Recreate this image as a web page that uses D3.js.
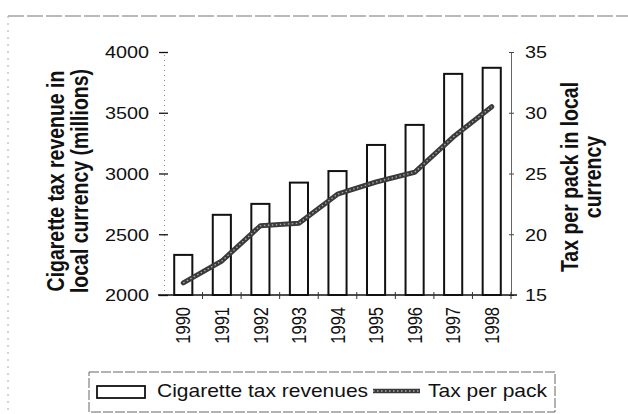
<!DOCTYPE html>
<html>
<head>
<meta charset="utf-8">
<script src="https://cdn.jsdelivr.net/npm/d3@7"></script>
<style>
  body { margin: 0; background: #fff; }
  text { font-family: "Liberation Sans", Arial, sans-serif; fill: #111; }
</style>
</head>
<body>
<svg id="chart" width="628" height="414"></svg>
<script>
// Cigarette tax revenue (bars, left axis) and tax per pack (line, right axis)
const years = ["1990", "1991", "1992", "1993", "1994", "1995", "1996", "1997", "1998"];
const revenue = [2330, 2660, 2750, 2925, 3020, 3235, 3400, 3820, 3870];
const taxPerPack = [16.0, 17.8, 20.7, 20.9, 23.3, 24.3, 25.1, 28.0, 30.5];
const revenueTicks = [2000, 2500, 3000, 3500, 4000];
const taxTicks = [15, 20, 25, 30, 35];
const leftTitle = ["Cigarette tax revenue in", "local currency (millions)"];
const rightTitle = ["Tax per pack in local", "currency"];
const legendLabels = ["Cigarette tax revenues", "Tax per pack"];

const SX = 1.2; // glyphs are drawn slightly wide
const svg = d3.select("#chart");

const plot = { left: 164, right: 511, top: 52, bottom: 295 };

const x = d3.scaleBand().domain(years)
  .range([plot.left, plot.right])
  .paddingInner(0.53).paddingOuter(0.265);
const yL = d3.scaleLinear().domain([2000, 4000]).range([plot.bottom, plot.top]);
const yR = d3.scaleLinear().domain([15, 35]).range([plot.bottom, plot.top]);

// outer frame
svg.append("line").attr("x1", 8).attr("x2", 628).attr("y1", 16).attr("y2", 16)
  .attr("stroke", "#777").attr("stroke-width", 1.2).attr("stroke-dasharray", "16,3");
svg.append("line").attr("x1", 8).attr("x2", 8).attr("y1", 16).attr("y2", 414)
  .attr("stroke", "#aaa").attr("stroke-width", 1).attr("stroke-dasharray", "2,5");

// bars
svg.append("g").selectAll("rect").data(years).join("rect")
  .attr("x", d => x(d))
  .attr("width", x.bandwidth())
  .attr("y", (d, i) => yL(revenue[i]))
  .attr("height", (d, i) => plot.bottom - yL(revenue[i]))
  .attr("fill", "#fff").attr("stroke", "#111").attr("stroke-width", 2);

// left axis
const gL = svg.append("g").attr("transform", `translate(${plot.left},0)`)
  .call(d3.axisLeft(yL).tickValues(revenueTicks).tickSize(5).tickFormat(d3.format("d")));
gL.select(".domain").attr("stroke", "#888").attr("stroke-dasharray", "1,4");
gL.selectAll(".tick line").attr("x1", 4).attr("stroke", "#111").attr("stroke-width", 1.3);
gL.selectAll(".tick text").attr("x", null).attr("dy", "0.36em")
  .attr("transform", `translate(-15,0) scale(${SX},1)`)
  .style("font-size", "16.5px").style("font-family", "Liberation Sans, Arial, sans-serif")
  .attr("fill", "#111");

// right axis
const gR = svg.append("g").attr("transform", `translate(${plot.right},0)`)
  .call(d3.axisRight(yR).tickValues(taxTicks).tickSize(3));
gR.select(".domain").attr("stroke", "#666").attr("stroke-width", 1);
gR.selectAll(".tick line").attr("x1", -2).attr("stroke", "#444");
gR.selectAll(".tick text").attr("x", null).attr("dy", "0.36em")
  .attr("transform", `translate(14,0) scale(${SX},1)`)
  .style("font-size", "16.5px").style("font-family", "Liberation Sans, Arial, sans-serif")
  .attr("fill", "#111");

// bottom axis: baseline with ticks between categories
const gB = svg.append("g").attr("transform", `translate(0,${plot.bottom})`);
gB.append("line").attr("x1", plot.left - 6).attr("x2", plot.right + 6)
  .attr("stroke", "#111").attr("stroke-width", 1.4);
gB.selectAll("line.tk").data(d3.range(1, years.length + 1)).join("line")
  .attr("class", "tk")
  .attr("x1", i => plot.left + i * x.step()).attr("x2", i => plot.left + i * x.step())
  .attr("y1", -3).attr("y2", 4).attr("stroke", "#333");
gB.selectAll("text").data(years).join("text")
  .attr("transform", d => `translate(${x(d) + x.bandwidth() / 2},12) scale(${SX},1) rotate(-90)`)
  .attr("text-anchor", "end").attr("dy", "0.36em")
  .style("font-size", "16.5px")
  .text(d => d);

// tax per pack line
const linePath = d3.line()
  .x((d, i) => x(years[i]) + x.bandwidth() / 2)
  .y(d => yR(d));
svg.append("path").datum(taxPerPack).attr("d", linePath)
  .attr("fill", "none").attr("stroke", "#3a3a3a").attr("stroke-width", 5)
  .attr("stroke-linejoin", "round").attr("stroke-linecap", "round");
svg.append("path").datum(taxPerPack).attr("d", linePath)
  .attr("fill", "none").attr("stroke", "#a8a8a8").attr("stroke-width", 1.4)
  .attr("stroke-dasharray", "1.5,2.5");

// axis titles
function title(lines, x0, gap, cy) {
  lines.forEach((t, i) => {
    svg.append("text")
      .attr("transform", `translate(${x0 + i * gap},${cy}) scale(${SX},1) rotate(-90)`)
      .attr("text-anchor", "middle")
      .style("font-size", "19.5px").style("font-weight", "bold")
      .text(t);
  });
}
title(leftTitle, 64, 24, 181);
title(rightTitle, 578, 23, 177);

// legend
const lg = svg.append("g");
lg.append("rect").attr("x", 89).attr("y", 372).attr("width", 466).attr("height", 40)
  .attr("fill", "#fff").attr("stroke", "#666").attr("stroke-width", 1)
  .attr("stroke-dasharray", "10,2");
lg.append("rect").attr("x", 97).attr("y", 386).attr("width", 48).attr("height", 12)
  .attr("fill", "#fff").attr("stroke", "#111").attr("stroke-width", 1.8);
lg.append("text").attr("transform", `translate(157,397) scale(${SX},1)`)
  .style("font-size", "17.5px").text(legendLabels[0]);
lg.append("line").attr("x1", 373).attr("x2", 420).attr("y1", 391).attr("y2", 391)
  .attr("stroke", "#3a3a3a").attr("stroke-width", 4.5);
lg.append("line").attr("x1", 373).attr("x2", 420).attr("y1", 391).attr("y2", 391)
  .attr("stroke", "#a8a8a8").attr("stroke-width", 1.3).attr("stroke-dasharray", "1.5,2.5");
lg.append("text").attr("transform", `translate(428,397) scale(${SX},1)`)
  .style("font-size", "17.5px").text(legendLabels[1]);
</script>
</body>
</html>
